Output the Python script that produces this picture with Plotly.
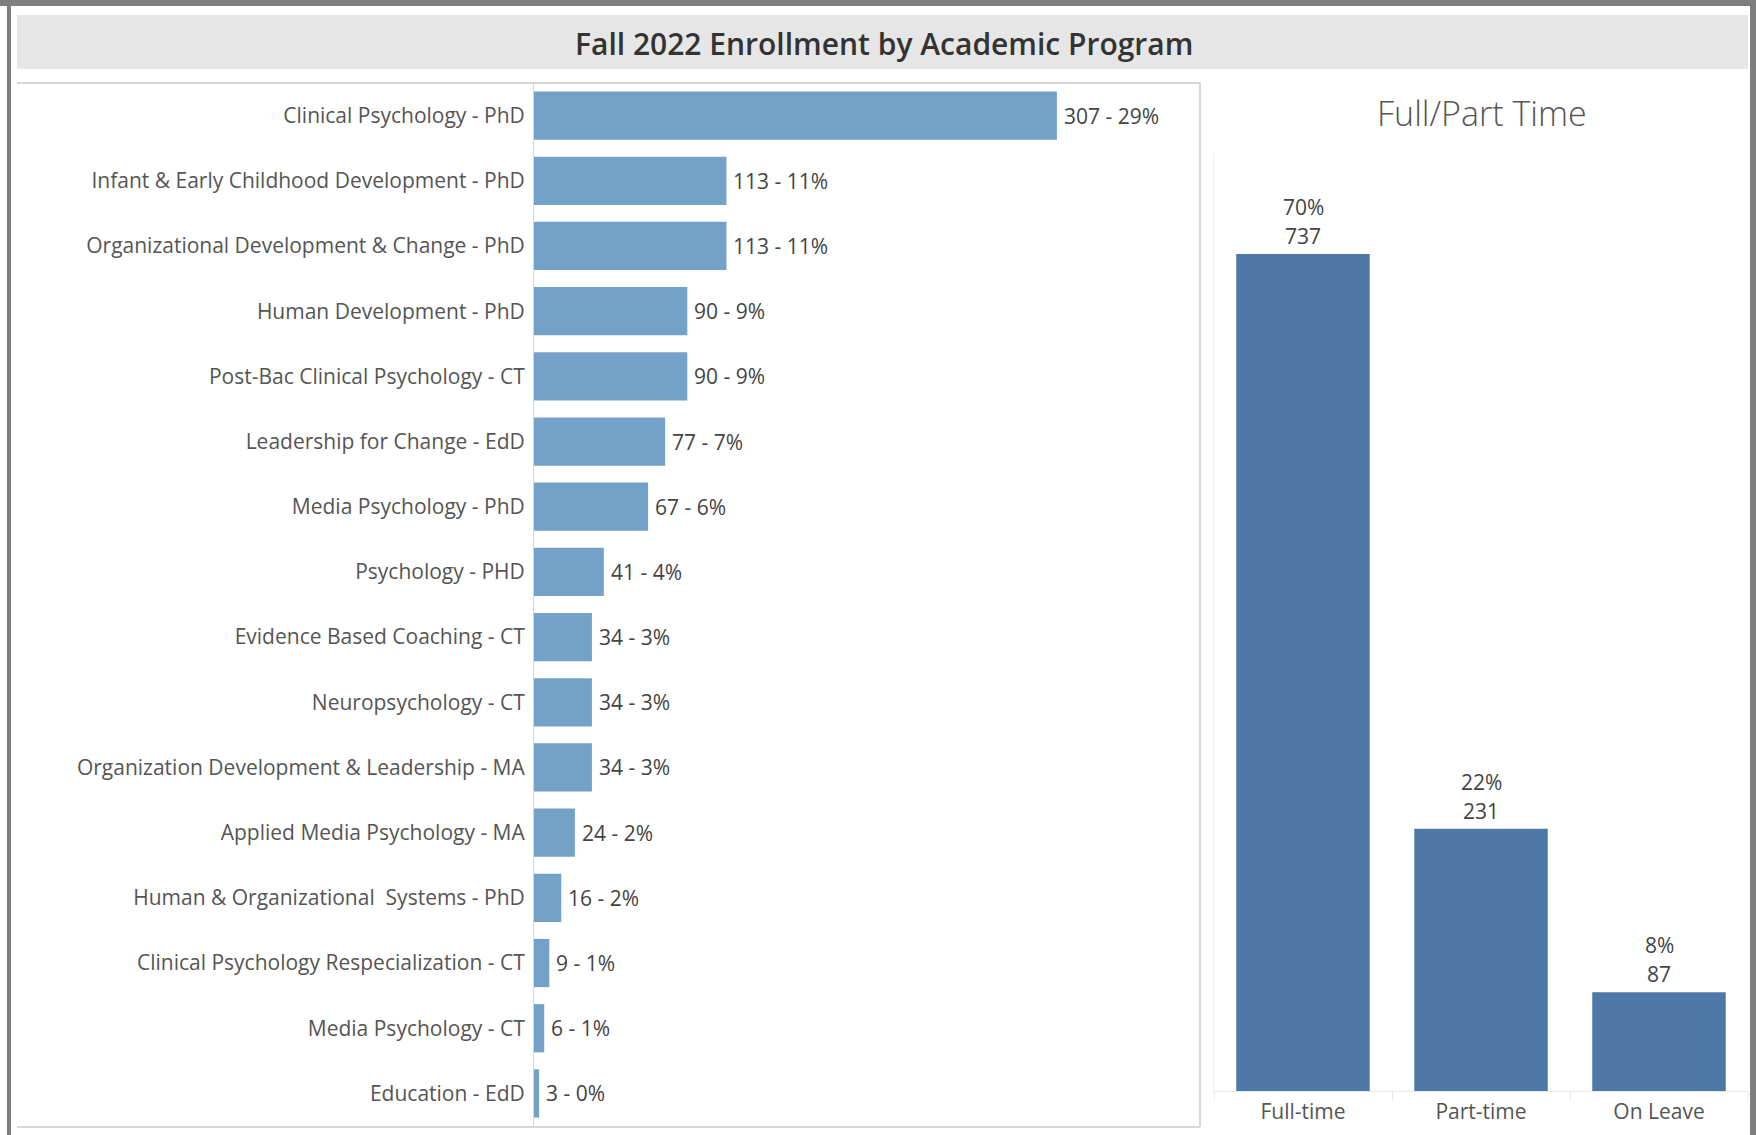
import plotly.graph_objects as go

W, H = 1756, 1135

programs = [
    "Clinical Psychology - PhD",
    "Infant & Early Childhood Development - PhD",
    "Organizational Development & Change - PhD",
    "Human Development - PhD",
    "Post-Bac Clinical Psychology - CT",
    "Leadership for Change - EdD",
    "Media Psychology - PhD",
    "Psychology - PHD",
    "Evidence Based Coaching - CT",
    "Neuropsychology - CT",
    "Organization Development & Leadership - MA",
    "Applied Media Psychology - MA",
    "Human & Organizational  Systems - PhD",
    "Clinical Psychology Respecialization - CT",
    "Media Psychology - CT",
    "Education - EdD",
]
program_counts = [307, 113, 113, 90, 90, 77, 67, 41, 34, 34, 34, 24, 16, 9, 6, 3]
program_pcts = [29, 11, 11, 9, 9, 7, 6, 4, 3, 3, 3, 2, 2, 1, 1, 0]

status = ["Full-time", "Part-time", "On Leave"]
status_counts = [737, 231, 87]
status_pcts = [70, 22, 8]

def px_x(p):
    return p / W

def px_y(p):
    return 1 - p / H

FONT = "Open Sans"
LABEL_COLOR = "#555555"
VALUE_COLOR = "#444444"
FS = 21

fig = go.Figure()

fig.add_trace(go.Bar(
    y=programs, x=program_counts, orientation="h",
    marker=dict(color="#74a1c7", line=dict(width=0)),
    xaxis="x", yaxis="y", hoverinfo="skip", showlegend=False,
))

fig.add_trace(go.Bar(
    x=status, y=status_counts, width=0.75,
    marker=dict(color="#4e79a7", line=dict(width=0)),
    xaxis="x2", yaxis="y2", hoverinfo="skip", showlegend=False,
))

annotations = []
for prog, c, p in zip(programs, program_counts, program_pcts):
    annotations.append(dict(x=c, y=prog, xref="x", yref="y", text=f"{c} - {p}%",
                            showarrow=False, xanchor="left", yanchor="middle",
                            xshift=5, font=dict(family=FONT, size=FS, color=VALUE_COLOR)))

for s, c, p in zip(status, status_counts, status_pcts):
    annotations.append(dict(x=s, y=c, xref="x2", yref="y2", text=str(c),
                            showarrow=False, yanchor="bottom", yshift=2,
                            font=dict(family=FONT, size=FS, color=VALUE_COLOR)))
    annotations.append(dict(x=s, y=c, xref="x2", yref="y2", text=f"{p}%",
                            showarrow=False, yanchor="bottom", yshift=31,
                            font=dict(family=FONT, size=FS, color=VALUE_COLOR)))

annotations.append(dict(x=px_x(884), y=px_y(43), xref="paper", yref="paper",
                        text="Fall 2022 Enrollment by Academic Program",
                        showarrow=False, xanchor="center", yanchor="middle",
                        font=dict(family=FONT, size=30, color="#333333", weight=600)))
annotations.append(dict(x=px_x(1482), y=px_y(113), xref="paper", yref="paper",
                        text="Full/Part Time",
                        showarrow=False, xanchor="center", yanchor="middle",
                        font=dict(family=FONT, size=34, color="#555555", weight=300)))

shapes = [
    dict(type="rect", xref="paper", yref="paper",
         x0=px_x(17), x1=px_x(1748), y0=px_y(69), y1=px_y(15),
         fillcolor="#e6e6e6", line=dict(width=0), layer="below"),
    dict(type="line", xref="paper", yref="paper",
         x0=px_x(17), x1=px_x(1200), y0=px_y(83), y1=px_y(83),
         line=dict(color="#d6d6d6", width=2)),
    dict(type="line", xref="paper", yref="paper",
         x0=px_x(1200), x1=px_x(1200), y0=px_y(83), y1=px_y(1127),
         line=dict(color="#d6d6d6", width=2)),
    dict(type="line", xref="paper", yref="paper",
         x0=px_x(17), x1=px_x(1200), y0=px_y(1127), y1=px_y(1127),
         line=dict(color="#d6d6d6", width=2)),
    dict(type="rect", xref="paper", yref="paper",
         x0=0, x1=1, y0=px_y(6), y1=1,
         fillcolor="#7f7f7f", line=dict(width=0)),
    dict(type="rect", xref="paper", yref="paper",
         x0=px_x(7), x1=px_x(11), y0=0, y1=1,
         fillcolor="#7f7f7f", line=dict(width=0)),
    dict(type="rect", xref="paper", yref="paper",
         x0=px_x(1750), x1=1, y0=0, y1=1,
         fillcolor="#7f7f7f", line=dict(width=0)),
]

fig.update_layout(
    width=W, height=H,
    margin=dict(l=0, r=0, t=0, b=0),
    paper_bgcolor="white", plot_bgcolor="white",
    bargap=0.26,
    font=dict(family=FONT, color=LABEL_COLOR),
    annotations=annotations,
    shapes=shapes,
    xaxis=dict(domain=[px_x(534), px_x(1200)], range=[0, 391],
               showgrid=False, zeroline=False, showticklabels=False,
               showline=False, fixedrange=True),
    yaxis=dict(domain=[px_y(1126), px_y(83)], autorange="reversed",
               type="category", showgrid=False, zeroline=False,
               showline=True, linecolor="#d6d6d6", linewidth=1,
               ticks="outside", ticklen=4, tickcolor="rgba(0,0,0,0)",
               tickfont=dict(family=FONT, size=FS, color=LABEL_COLOR),
               anchor="x", fixedrange=True),
    xaxis2=dict(domain=[px_x(1214), px_x(1748)], type="category",
                showgrid=False, zeroline=False,
                showline=True, linecolor="#e8e8e8", linewidth=1,
                ticks="outside", tickson="boundaries", ticklen=8,
                tickcolor="#e8e8e8", ticklabelstandoff=2,
                tickfont=dict(family=FONT, size=FS, color=LABEL_COLOR),
                anchor="y2", fixedrange=True),
    yaxis2=dict(domain=[px_y(1091), px_y(153)], range=[0, 826],
                showgrid=False, zeroline=False, showticklabels=False,
                showline=True, linecolor="#eeeeee", linewidth=1,
                anchor="x2", fixedrange=True),
)

fig.write_html("out.html", config={"displayModeBar": False},
               post_script="document.body.style.margin='0';document.body.style.overflow='hidden';")
